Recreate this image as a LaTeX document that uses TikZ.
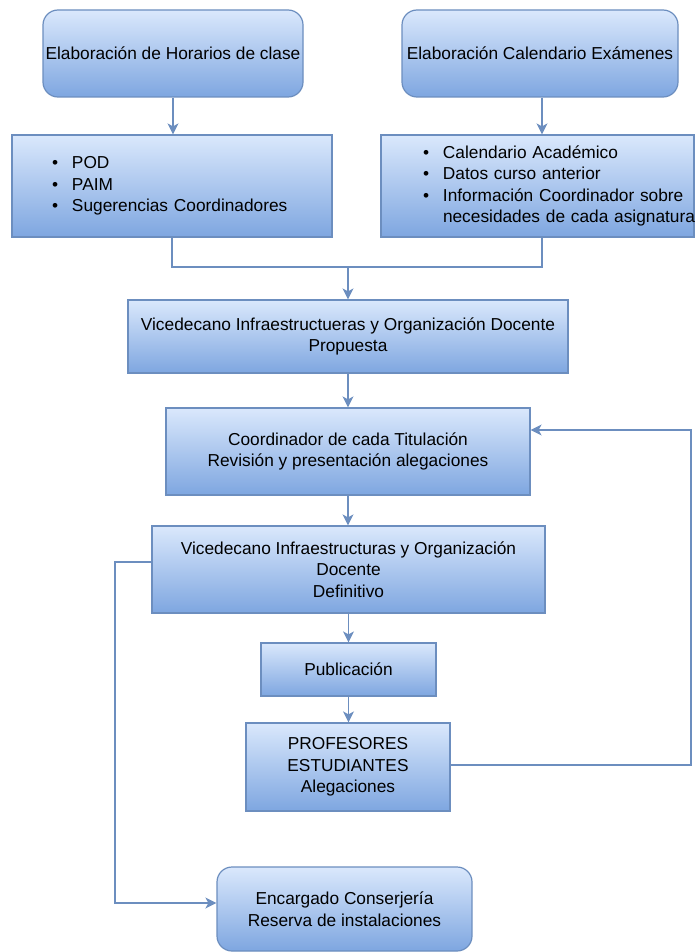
\documentclass[tikz,border=0pt]{standalone}
\usepackage{fontspec}
\setmainfont{Liberation Sans}
\usetikzlibrary{arrows.meta}
\definecolor{topc}{HTML}{DAE8FC}
\definecolor{botc}{HTML}{7EA6E0}
\definecolor{edgec}{HTML}{6C8EBF}
\tikzset{
 box/.style={draw=edgec, line width=1.2pt, top color=topc, bottom color=botc, inner sep=0pt, font=\fontsize{17.3}{21.5}\selectfont, align=center},
 rbox/.style={box, rounded corners=15pt},
 conn/.style={draw=edgec, line width=1.3pt},
 arr/.style={conn, -{Stealth[length=11pt,width=11pt,inset=3pt]}},
}
\newcommand{\itm}[1]{\mbox{\makebox[20pt][l]{\textbullet}#1}}
\begin{document}
\begin{tikzpicture}[x=1pt,y=-1pt]
\useasboundingbox (0,0) rectangle (695,952);
\fill[white] (0,0) rectangle (695,952);
\node[rbox, minimum width=260pt, minimum height=87pt] (b1) at (173,53.5) {Elaboración de Horarios de clase};
\node[rbox, minimum width=276pt, minimum height=87pt] (b2) at (540,53.5) {Elaboración Calendario Exámenes};
\node[box, minimum width=320pt, minimum height=102pt, text width=320pt, align=left] (b3) at (172,186)
 {\hspace*{40pt}\itm{POD}\\\hspace*{40pt}\itm{PAIM}\\\hspace*{40pt}\itm{Sugerencias Coordinadores}};
\node[box, minimum width=313pt, minimum height=102pt, text width=313pt, align=left] (b4) at (537.5,186)
 {\hspace*{42pt}\itm{Calendario Académico}\\\hspace*{42pt}\itm{Datos curso anterior}\\\hspace*{42pt}\itm{Información Coordinador sobre}\\\hspace*{62pt}\mbox{necesidades de cada asignatura}};
\node[box, minimum width=440pt, minimum height=73pt] (b5) at (348,336.5) {Vicedecano Infraestructueras y Organización Docente\\Propuesta};
\node[box, minimum width=364pt, minimum height=87pt] (b6) at (348,451.5) {Coordinador de cada Titulación\\Revisión y presentación alegaciones};
\node[box, minimum width=393pt, minimum height=87pt] (b7) at (348.5,569.5) {Vicedecano Infraestructuras y Organización\\Docente\\Definitivo};
\node[box, minimum width=175pt, minimum height=53pt] (b8) at (348.5,669.5) {Publicación};
\node[box, minimum width=204pt, minimum height=88pt] (b9) at (348,767) {PROFESORES\\ESTUDIANTES\\Alegaciones};
\node[rbox, minimum width=255pt, minimum height=84pt] (b10) at (344.5,909) {Encargado Conserjería\\Reserva de instalaciones};
\coordinate (m) at (348,267);
\coordinate (a2) at (542,0);
\coordinate (fbt) at (691,430);
\coordinate (fbb) at (691,765);
\coordinate (lt) at (115,562);
\coordinate (lb) at (115,903);
\draw[arr] (b1.south) -- (b1.south |- b3.north);
\draw[arr] (a2 |- b2.south) -- (a2 |- b4.north);
\draw[conn] (b3.south) |- (m);
\draw[conn] (a2 |- b4.south) |- (m);
\draw[arr] (m) -- (m |- b5.north);
\draw[arr] (b5.south) -- (b5.south |- b6.north);
\draw[arr] (b6.south) -- (b6.south |- b7.north);
\draw[arr] (b7.south) -- (b7.south |- b8.north);
\draw[arr] (b8.south) -- (b8.south |- b9.north);
\draw[arr] (b9.east |- fbb) -- (fbb) -- (fbt) -- (b6.east |- fbt);
\draw[arr] (b7.west |- lt) -- (lt) -- (lb) -- (b10.west |- lb);
\end{tikzpicture}
\end{document}
